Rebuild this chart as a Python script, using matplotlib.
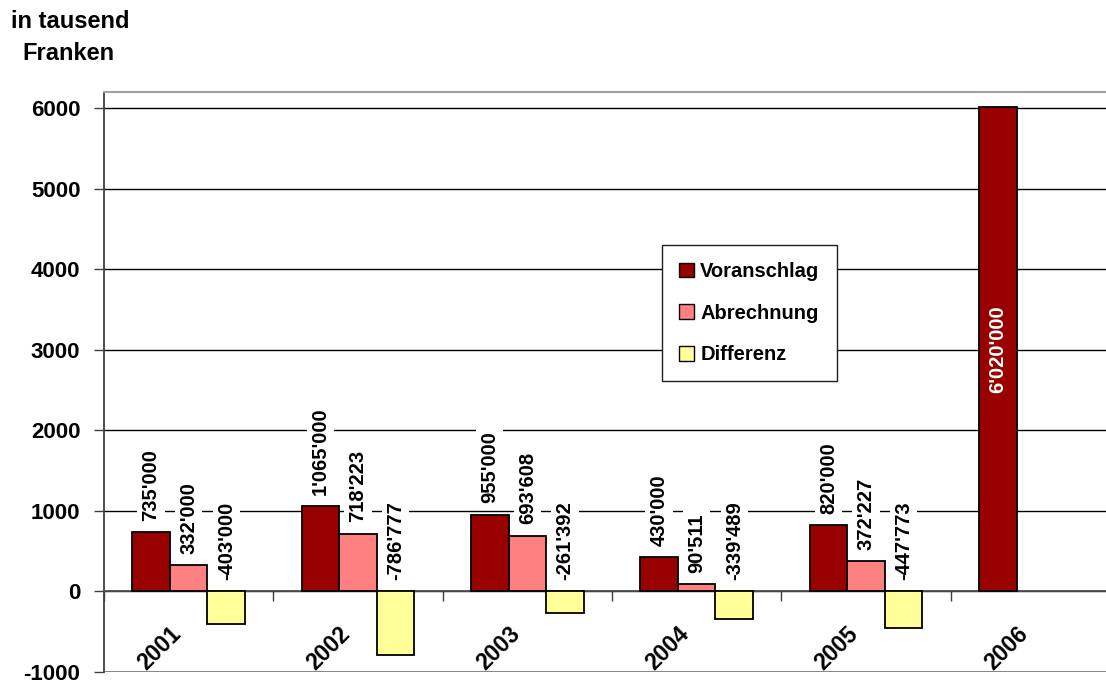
import numpy as np
import matplotlib.pyplot as plt
from matplotlib.patches import Patch

plt.rcParams['font.family'] = ['Liberation Sans', 'DejaVu Sans']
plt.rcParams['font.weight'] = 'bold'
plt.rcParams['axes.unicode_minus'] = False

# Beträge in tausend Franken
jahre = ['2001', '2002', '2003', '2004', '2005', '2006']
voranschlag = [735.0, 1065.0, 955.0, 430.0, 820.0, 6020.0]
abrechnung = [332.0, 718.223, 693.608, 90.511, 372.227, np.nan]
differenz = [-403.0, -786.777, -261.392, -339.489, -447.773, np.nan]

farben = ['#990000', '#FF8080', '#FFFF99']
namen = ['Voranschlag', 'Abrechnung', 'Differenz']


def fmt(v):
    # Schweizer Tausendertrennzeichen, Wert in Franken
    s = f"{abs(round(v * 1000)):,}".replace(',', "'")
    return ('-' if v < 0 else '') + s


fig = plt.figure(figsize=(11.06, 6.81), dpi=100)
ax = fig.add_axes([104 / 1106, 9 / 681, 1016 / 1106, 580 / 681])

x = np.arange(len(jahre))
w = 0.222
reihen = [voranschlag, abrechnung, differenz]

for k, werte in enumerate(reihen):
    pos = x + (k - 1) * w
    ax.bar(pos, werte, w, color=farben[k], edgecolor='black', linewidth=1.3, zorder=3)
    for p, v in zip(pos, werte):
        if np.isnan(v):
            continue
        if v > 3000:
            ax.text(p, v / 2, fmt(v), rotation=90, ha='center', va='center',
                    color='white', fontsize=14.5, fontweight='bold', zorder=5)
            continue
        ax.annotate(fmt(v), (p, max(v, 0)), xytext=(0, 8), textcoords='offset points',
                    rotation=90, ha='center', va='bottom', fontsize=14.5, fontweight='bold',
                    bbox=dict(facecolor='white', edgecolor='none', pad=3), zorder=4)

ax.set_xlim(-0.5, len(jahre) - 0.5)
ax.set_ylim(-1000, 6200)
ax.set_yticks(np.arange(-1000, 7000, 1000))
ax.tick_params(axis='y', labelsize=16, length=7, width=1, pad=10, color='#404040')
for t in ax.get_yticklabels():
    t.set_fontweight('bold')
ax.yaxis.grid(True, color='black', linewidth=1)
ax.set_axisbelow(True)

# Nulllinie mit Kategorie-Strichen
ax.spines['bottom'].set_position(('data', 0))
ax.spines['bottom'].set_color('#505050')
ax.spines['bottom'].set_linewidth(1.3)
ax.set_xticks(np.arange(-0.5, len(jahre), 1))
ax.set_xticklabels([])
ax.tick_params(axis='x', direction='out', length=7, width=1, color='#404040')
ax.spines['left'].set_color('#404040')
ax.spines['left'].set_linewidth(1.3)
ax.spines['top'].set_color('#a0a0a0')
ax.spines['top'].set_linewidth(1.5)
ax.spines['right'].set_visible(False)
ax.axhline(-1000, color='#808080', linewidth=2, zorder=2)

for i, j in enumerate(jahre):
    ax.annotate(j, (i, 0), xytext=(-8, -28), textcoords='offset points',
                rotation=45, rotation_mode='anchor', ha='right', va='center',
                fontsize=16.5, fontweight='bold')

fig.text(70 / 1106, 1 - 22 / 681, 'in tausend', ha='center', va='center',
         fontsize=17, fontweight='bold')
fig.text(68 / 1106, 1 - 53 / 681, 'Franken', ha='center', va='center',
         fontsize=17, fontweight='bold')

handles = [Patch(facecolor=c, edgecolor='black', linewidth=1) for c in farben]
leg = fig.legend(handles, namen, loc='upper left',
                 bbox_to_anchor=(662 / 1106, 1 - 245 / 681),
                 prop={'size': 14.5, 'weight': 'bold'},
                 handlelength=0.75, handleheight=0.75, handletextpad=0.3,
                 labelspacing=1.12, borderpad=0.85, borderaxespad=0,
                 fancybox=False, framealpha=1, edgecolor='#202020')
leg.get_frame().set_linewidth(1)

fig.savefig('out.png', dpi=100)
